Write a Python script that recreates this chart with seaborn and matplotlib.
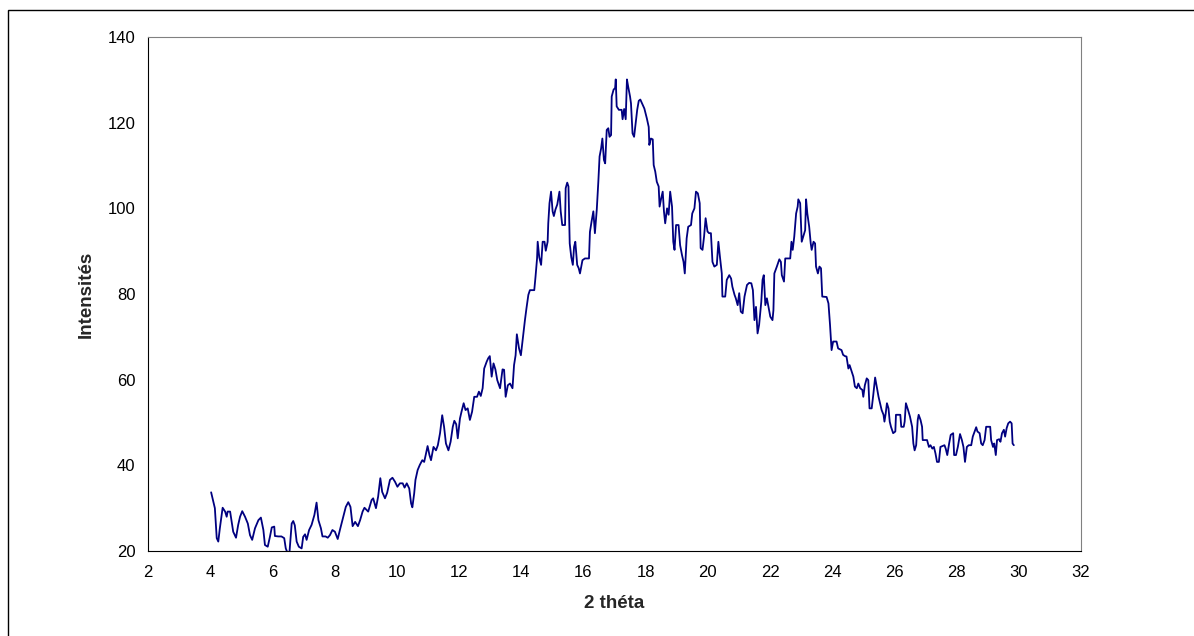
import matplotlib
matplotlib.use("Agg")
import matplotlib.pyplot as plt
import seaborn as sns
import pandas as pd
from matplotlib.patches import Rectangle

# ---------------- data ----------------
two_theta = [
    4.03, 4.15, 4.21, 4.26, 4.31, 4.40, 4.48, 4.53, 4.56, 4.64, 4.69, 4.74, 4.83, 4.90, 4.96,
    5.03, 5.12, 5.21, 5.28, 5.35, 5.44, 5.55, 5.63, 5.71, 5.76, 5.85, 5.92, 5.98,
    6.06, 6.08, 6.19, 6.29, 6.38, 6.43, 6.49, 6.55, 6.62, 6.67, 6.72, 6.78, 6.85, 6.94, 6.99,
    7.05, 7.10, 7.18, 7.26, 7.35, 7.42, 7.48, 7.56, 7.61, 7.71, 7.78, 7.85, 7.93,
    8.01, 8.10, 8.17, 8.28, 8.36, 8.44, 8.51, 8.58, 8.66, 8.75, 8.82, 8.90, 8.96,
    9.08, 9.19, 9.24, 9.33, 9.40, 9.47, 9.53, 9.62, 9.69, 9.78, 9.86, 9.94,
    10.02, 10.10, 10.19, 10.25, 10.32, 10.40, 10.46, 10.50, 10.56, 10.60, 10.67, 10.74, 10.82, 10.88, 10.92, 10.99,
    11.05, 11.10, 11.18, 11.26, 11.32, 11.39, 11.46, 11.52, 11.58, 11.66, 11.73, 11.80, 11.85, 11.91, 11.96,
    12.03, 12.08, 12.15, 12.21, 12.28, 12.35, 12.42, 12.49, 12.58, 12.64, 12.70, 12.76, 12.81, 12.89, 12.94, 12.99,
    13.05, 13.11, 13.17, 13.23, 13.32, 13.40, 13.45, 13.50, 13.57, 13.64, 13.72, 13.77, 13.82, 13.86, 13.93, 13.99,
    14.07, 14.12, 14.17, 14.23, 14.28, 14.42, 14.46, 14.51, 14.53, 14.58, 14.64, 14.69, 14.75, 14.79, 14.85, 14.87, 14.91, 14.96,
    15.01, 15.05, 15.10, 15.16, 15.23, 15.27, 15.32, 15.41, 15.43, 15.48, 15.52, 15.56, 15.61, 15.66, 15.70, 15.74, 15.80, 15.85, 15.89, 15.97,
    16.05, 16.18, 16.21, 16.26, 16.32, 16.37, 16.43, 16.48, 16.52, 16.57, 16.61, 16.66, 16.70, 16.75, 16.80, 16.84, 16.89, 16.91, 16.97,
    17.02, 17.04, 17.07, 17.14, 17.23, 17.26, 17.31, 17.36, 17.40, 17.44, 17.50, 17.53, 17.58, 17.63, 17.69, 17.73, 17.78, 17.83, 17.88, 17.96,
    18.04, 18.10, 18.12, 18.17, 18.23, 18.26, 18.31, 18.36, 18.42, 18.45, 18.50, 18.55, 18.59, 18.63, 18.69, 18.74, 18.79, 18.85, 18.89, 18.93, 18.98,
    19.06, 19.11, 19.17, 19.22, 19.26, 19.32, 19.37, 19.46, 19.50, 19.57, 19.62, 19.68, 19.74, 19.77, 19.83, 19.88, 19.93, 19.99,
    20.04, 20.10, 20.15, 20.21, 20.29, 20.34, 20.39, 20.45, 20.47, 20.56, 20.61, 20.69, 20.75, 20.79, 20.86, 20.90, 20.96,
    21.01, 21.06, 21.12, 21.18, 21.26, 21.33, 21.40, 21.45, 21.50, 21.55, 21.60, 21.65, 21.72, 21.76, 21.80, 21.85, 21.90, 21.93,
    22.01, 22.08, 22.11, 22.14, 22.22, 22.30, 22.35, 22.38, 22.45, 22.49, 22.65, 22.69, 22.73, 22.78, 22.84, 22.89, 22.91, 22.97,
    23.02, 23.07, 23.13, 23.16, 23.20, 23.26, 23.31, 23.34, 23.40, 23.45, 23.48, 23.54, 23.59, 23.64, 23.68, 23.82, 23.88, 23.93, 23.98,
    24.03, 24.14, 24.19, 24.30, 24.35, 24.41, 24.46, 24.52, 24.56, 24.63, 24.68, 24.73, 24.79, 24.84, 24.90, 24.97,
    25.00, 25.05, 25.11, 25.16, 25.20, 25.27, 25.32, 25.38, 25.43, 25.49, 25.54, 25.59, 25.65, 25.68, 25.72, 25.76, 25.81, 25.85, 25.89, 25.96,
    26.03, 26.05, 26.19, 26.22, 26.30, 26.33, 26.37, 26.44, 26.50, 26.57, 26.61, 26.65, 26.70, 26.75, 26.78, 26.84, 26.89, 26.91,
    27.05, 27.11, 27.16, 27.22, 27.27, 27.32, 27.37, 27.43, 27.48, 27.61, 27.65, 27.70, 27.76, 27.81, 27.89, 27.92, 27.98,
    28.04, 28.11, 28.17, 28.22, 28.27, 28.33, 28.39, 28.47, 28.52, 28.58, 28.63, 28.67, 28.74, 28.79, 28.84, 28.90, 28.95,
    29.08, 29.11, 29.17, 29.21, 29.26, 29.30, 29.37, 29.41, 29.46, 29.52, 29.56, 29.61, 29.66, 29.72, 29.77, 29.80, 29.84,
]

intensity = [
    33.7, 30.0, 23.0, 22.2, 25.3, 30.1, 29.2, 28.0, 29.2, 29.2, 26.8, 24.5, 23.1, 26.1, 28.0,
    29.3, 28.0, 26.4, 23.7, 22.6, 25.3, 27.2, 27.8, 24.9, 21.4, 21.0, 23.3, 25.5,
    25.7, 23.5, 23.4, 23.4, 23.0, 20.6, 19.5, 19.8, 26.4, 27.0, 26.0, 22.2, 21.0, 20.6, 23.3,
    23.9, 22.6, 24.9, 26.1, 28.4, 31.3, 27.2, 25.3, 23.4, 23.4, 23.1, 23.7, 24.9,
    24.5, 22.8, 24.9, 28.0, 30.3, 31.4, 30.3, 25.8, 26.8, 25.8, 27.2, 29.2, 30.1,
    29.2, 31.9, 32.3, 30.0, 32.7, 37.0, 33.8, 32.3, 33.6, 36.6, 37.1, 36.2,
    35.0, 35.8, 35.8, 34.8, 35.8, 34.6, 31.1, 30.2, 33.5, 36.6, 38.9, 40.1, 41.2, 40.8, 42.1, 44.5,
    42.4, 41.2, 44.3, 43.5, 44.7, 47.5, 51.7, 49.0, 45.1, 43.5, 45.5, 49.0, 50.4, 49.6, 46.3,
    50.9, 52.5, 54.5, 52.9, 53.3, 50.6, 52.5, 56.0, 56.0, 57.2, 56.2, 58.0, 62.6, 64.2, 65.0, 65.5,
    60.7, 63.8, 62.4, 59.9, 58.0, 62.4, 62.3, 56.0, 58.7, 59.1, 58.0, 63.4, 65.7, 70.6, 67.3, 65.7,
    70.8, 73.9, 76.7, 79.8, 80.9, 80.9, 84.0, 88.3, 92.2, 88.6, 86.8, 92.2, 92.2, 90.1, 92.2, 96.5, 101.2, 103.9,
    99.3, 98.2, 99.7, 100.9, 103.9, 99.3, 96.1, 96.1, 104.7, 106.0, 105.1, 91.8, 88.6, 86.8, 91.0, 92.2, 86.8, 86.0, 84.8, 87.9,
    88.3, 88.3, 94.5, 96.8, 99.3, 94.2, 99.7, 106.2, 112.1, 114.0, 116.3, 111.3, 110.5, 118.3, 118.7, 116.7, 117.1, 126.1, 127.7,
    128.1, 130.1, 123.8, 123.0, 123.0, 120.8, 123.2, 120.8, 130.1, 128.4, 126.1, 124.5, 117.5, 116.7, 120.6, 123.0, 125.1, 125.4, 124.6, 123.3,
    121.0, 119.0, 114.8, 116.3, 116.1, 110.1, 108.6, 106.2, 105.1, 100.4, 102.3, 103.9, 99.3, 96.5, 100.0, 98.5, 103.9, 100.4, 92.2, 90.3, 96.1,
    96.1, 91.4, 89.1, 87.5, 84.8, 93.0, 95.7, 96.1, 98.8, 100.0, 103.9, 103.5, 101.2, 90.7, 90.3, 93.4, 97.7, 94.6,
    94.2, 94.2, 87.5, 86.4, 86.8, 92.2, 88.7, 84.8, 79.4, 79.4, 83.3, 84.4, 83.6, 81.7, 79.8, 79.0, 77.4,
    80.2, 75.9, 75.5, 79.4, 82.1, 82.6, 82.5, 80.9, 73.9, 77.0, 70.8, 72.8, 78.2, 83.3, 84.4, 77.4, 79.0, 77.8,
    74.7, 73.9, 76.2, 84.8, 86.4, 88.1, 87.5, 84.4, 82.9, 88.3, 88.3, 92.2, 90.3, 93.4, 98.8, 100.4, 102.1, 101.2,
    92.2, 93.4, 94.9, 102.1, 98.8, 95.7, 91.8, 90.3, 92.2, 91.8, 86.4, 84.8, 86.4, 86.0, 79.4, 79.3, 77.8, 72.8, 66.9,
    68.9, 68.9, 67.3, 66.9, 65.8, 65.5, 65.4, 62.6, 63.4, 61.8, 60.7, 58.4, 58.0, 59.1, 58.0, 57.6,
    56.0, 58.7, 60.3, 59.9, 53.3, 53.3, 56.4, 60.5, 58.4, 56.0, 54.5, 52.9, 51.8, 50.2, 52.1, 54.5, 53.3, 50.2, 49.0, 47.5,
    47.9, 51.8, 51.8, 49.0, 49.0, 50.2, 54.5, 52.9, 51.4, 49.0, 45.1, 43.5, 44.7, 50.6, 51.8, 50.6, 49.0, 45.9,
    45.9, 44.3, 44.7, 43.9, 44.3, 42.8, 40.8, 40.8, 44.3, 44.7, 43.9, 42.4, 45.1, 47.1, 47.5, 42.4, 42.4,
    44.3, 47.3, 45.9, 44.3, 40.8, 44.3, 44.7, 44.7, 46.7, 47.9, 48.9, 47.9, 47.5, 45.1, 44.7, 45.9, 49.0,
    49.0, 45.9, 44.3, 45.1, 42.4, 45.9, 46.1, 45.5, 47.5, 48.3, 46.7, 48.7, 49.8, 50.2, 49.8, 45.1, 44.7,
]

x_ticks = [2, 4, 6, 8, 10, 12, 14, 16, 18, 20, 22, 24, 26, 28, 30, 32]
y_ticks = [20, 40, 60, 80, 100, 120, 140]
x_label = "2 théta"
y_label = "Intensités"

df = pd.DataFrame({"two_theta": two_theta, "intensity": intensity})

# ---------------- figure ----------------
sns.set_style("white")
plt.rcParams["font.family"] = ["Liberation Sans", "DejaVu Sans"]

W, H = 1194, 636
fig = plt.figure(figsize=(W / 100, H / 100), dpi=100)
fig.patch.set_facecolor("white")

# outer chart-area frame (only left/top edges visible in the reference)
fig.patches.append(Rectangle((8 / W, -0.05), 1.2, 1 - 9.5 / H + 0.05,
                             transform=fig.transFigure, fill=False,
                             edgecolor="black", linewidth=1.0, zorder=0))

left, right, top, bottom = 148, 1081, 37, 551
ax = fig.add_axes([left / W, 1 - bottom / H, (right - left) / W, (bottom - top) / H])

sns.lineplot(data=df, x="two_theta", y="intensity", ax=ax, color="#000080",
             linewidth=1.3, sort=False, estimator=None)

ax.set_xlim(2, 32)
ax.set_ylim(20, 140)
ax.set_xticks(x_ticks)
ax.set_yticks(y_ticks)
ax.set_xticklabels([str(t) for t in x_ticks])
ax.set_yticklabels([str(t) for t in y_ticks])

ax.tick_params(axis="both", which="major", direction="out", length=4,
               width=0.8, color="black", labelsize=12, labelcolor="black")
ax.tick_params(axis="x", pad=6)
ax.tick_params(axis="y", pad=5)

for s in ["left", "bottom"]:
    ax.spines[s].set_color("black")
    ax.spines[s].set_linewidth(0.8)
for s in ["top", "right"]:
    ax.spines[s].set_color("#808080")
    ax.spines[s].set_linewidth(0.8)
    ax.spines[s].set_visible(True)

ax.set_xlabel(x_label, fontsize=13.5, fontweight="bold")
ax.set_ylabel(y_label, fontsize=13.5, fontweight="bold")
ax.xaxis.set_label_coords(0.5, (bottom - 595) / (bottom - top))
ax.yaxis.set_label_coords((95 - left) / (right - left), 0.5)

ax.grid(False)
fig.savefig("out.png", dpi=100, facecolor="white")
